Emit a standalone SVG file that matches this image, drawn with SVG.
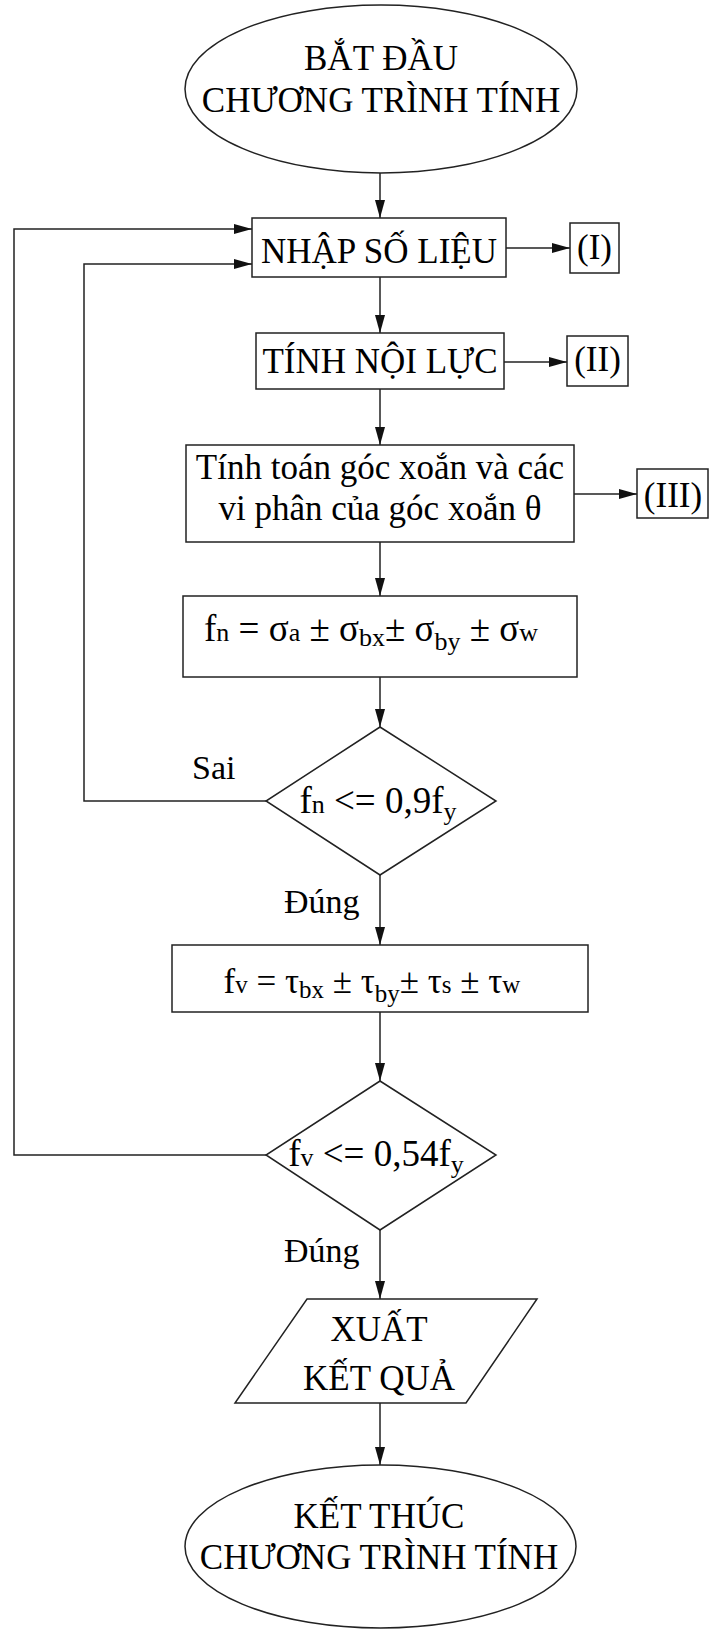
<svg xmlns="http://www.w3.org/2000/svg" width="709" height="1630" viewBox="0 0 709 1630">
  <defs>
    <marker id="arrow" markerUnits="userSpaceOnUse" markerWidth="18" markerHeight="10" refX="18" refY="5" orient="auto">
      <path d="M0,0 L18,5 L0,10 z" fill="#111"/>
    </marker>
    <style>
      .shape { fill: #fff; stroke: #222; stroke-width: 1.5; }
      .conn { fill: none; stroke: #222; stroke-width: 1.5; marker-end: url(#arrow); }
      text { font-family: "Liberation Serif", "Times New Roman", serif; fill: #000; }
      .lbl { font-size: 35px; text-anchor: middle; }
      .edge { font-size: 34px; }
      .f { font-size: 37px; text-anchor: middle; }
      .s { font-size: 26px; }
      .fv { font-size: 35px; }
      .fv .s { font-size: 25px; }
    </style>
  </defs>

  <rect width="709" height="1630" fill="#fff"/>

  <!-- connectors and their labels -->
  <g id="connectors">
    <line class="conn" x1="380" y1="173" x2="380" y2="218"/>
    <line class="conn" x1="380" y1="277" x2="380" y2="333"/>
    <line class="conn" x1="380" y1="389" x2="380" y2="445"/>
    <line class="conn" x1="380" y1="542" x2="380" y2="596"/>
    <line class="conn" x1="380" y1="677" x2="380" y2="727"/>
    <line class="conn" x1="380" y1="875" x2="380" y2="945"/>
    <line class="conn" x1="380" y1="1012" x2="380" y2="1081"/>
    <line class="conn" x1="380" y1="1230" x2="380" y2="1299"/>
    <line class="conn" x1="380" y1="1403" x2="380" y2="1465"/>
    <line class="conn" x1="506" y1="248" x2="570" y2="248"/>
    <line class="conn" x1="504" y1="362" x2="567" y2="362"/>
    <line class="conn" x1="574" y1="494" x2="637" y2="494"/>
    <polyline class="conn" points="266,801 84,801 84,264 252,264"/>
    <polyline class="conn" points="266,1155 14,1155 14,229 252,229"/>
    <text class="edge" x="192" y="779">Sai</text>
    <text class="edge" x="284" y="913">Đúng</text>
    <text class="edge" x="284" y="1262">Đúng</text>
  </g>

  <g id="start">
    <ellipse class="shape" cx="381" cy="89" rx="196" ry="84"/>
    <text class="lbl" x="381" y="70">BẮT ĐẦU</text>
    <text class="lbl" x="381" y="112">CHƯƠNG TRÌNH TÍNH</text>
  </g>

  <g id="input">
    <rect class="shape" x="252" y="218" width="254" height="59"/>
    <text class="lbl" x="379" y="263">NHẬP SỐ LIỆU</text>
  </g>

  <g id="ref-1">
    <rect class="shape" x="570" y="223" width="49" height="50"/>
    <text class="lbl" x="594.5" y="259">(I)</text>
  </g>

  <g id="internal-forces">
    <rect class="shape" x="256" y="333" width="248" height="56"/>
    <text class="lbl" x="380" y="373">TÍNH NỘI LỰC</text>
  </g>

  <g id="ref-2">
    <rect class="shape" x="567" y="336" width="61" height="50"/>
    <text class="lbl" x="597.5" y="371">(II)</text>
  </g>

  <g id="twist-angle">
    <rect class="shape" x="186" y="445" width="388" height="97"/>
    <text class="lbl" x="380" y="479">Tính toán góc xoắn và các</text>
    <text class="lbl" x="380" y="520">vi phân của góc xoắn θ</text>
  </g>

  <g id="ref-3">
    <rect class="shape" x="637" y="469" width="71" height="49"/>
    <text class="lbl" x="673" y="507">(III)</text>
  </g>

  <g id="normal-stress">
    <rect class="shape" x="183" y="596" width="394" height="81"/>
    <text class="f" x="371" y="641">f<tspan class="s">n</tspan> = σ<tspan class="s">a</tspan> ± σ<tspan class="s" dy="5">bx</tspan><tspan dy="-5">± σ</tspan><tspan class="s" dy="9">by</tspan><tspan dy="-9"> ± σ</tspan><tspan class="s">w</tspan></text>
  </g>

  <g id="check-normal">
    <polygon class="shape" points="380,727 496,801 380,875 266,801"/>
    <text class="f" x="378" y="813">f<tspan class="s">n</tspan> &lt;= 0,9f<tspan class="s" dy="7">y</tspan></text>
  </g>

  <g id="shear-stress">
    <rect class="shape" x="172" y="945" width="416" height="67"/>
    <text class="f fv" x="372" y="993">f<tspan class="s">v</tspan> = τ<tspan class="s" dy="5">bx</tspan><tspan dy="-5"> ± τ</tspan><tspan class="s" dy="9">by</tspan><tspan dy="-9">± τ</tspan><tspan class="s">s</tspan> ± τ<tspan class="s">w</tspan></text>
  </g>

  <g id="check-shear">
    <polygon class="shape" points="380,1081 496,1155 380,1230 266,1155"/>
    <text class="f" x="376" y="1166">f<tspan class="s">v</tspan> &lt;= 0,54f<tspan class="s" dy="7">y</tspan></text>
  </g>

  <g id="output">
    <polygon class="shape" points="307,1299 537,1299 466,1403 235,1403"/>
    <text class="lbl" x="379" y="1341">XUẤT</text>
    <text class="lbl" x="379" y="1390">KẾT QUẢ</text>
  </g>

  <g id="end">
    <ellipse class="shape" cx="380.5" cy="1546.5" rx="195.5" ry="81.5"/>
    <text class="lbl" x="379" y="1528">KẾT THÚC</text>
    <text class="lbl" x="379" y="1569">CHƯƠNG TRÌNH TÍNH</text>
  </g>
</svg>
